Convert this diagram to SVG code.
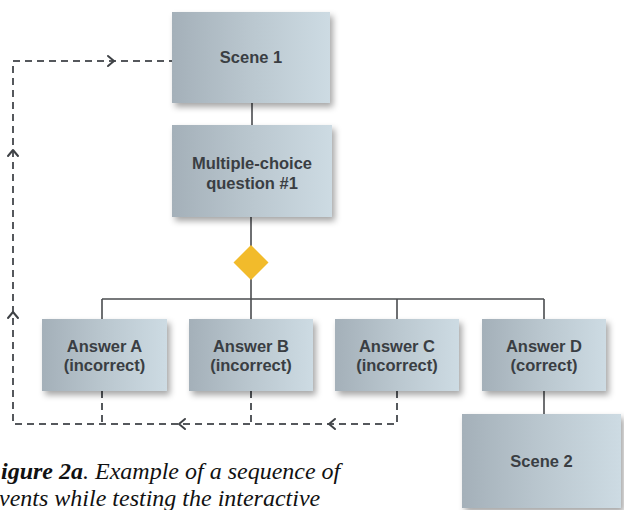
<svg xmlns="http://www.w3.org/2000/svg" width="624" height="510" viewBox="0 0 624 510">
<style>
.box{fill:url(#g);filter:url(#sh)}
.lbl{font-family:"Liberation Sans",Arial,sans-serif;font-weight:bold;font-size:16.5px;fill:#3a3e43;text-anchor:middle}
.solid{stroke:#4a4c4f;stroke-width:1.6;fill:none}
.dash{stroke:#55585c;stroke-width:2;fill:none;stroke-dasharray:7 5}
.chev{stroke:#3f4246;stroke-width:2;fill:none;stroke-linecap:round;stroke-linejoin:round}
</style>
<defs>
<linearGradient id="g" x1="0" y1="0" x2="1" y2="0">
<stop offset="0" stop-color="#a4b0b9"/>
<stop offset="0.5" stop-color="#bac7cf"/>
<stop offset="1" stop-color="#cddbe3"/>
</linearGradient>
<filter id="sh" x="-10%" y="-10%" width="125%" height="130%">
<feDropShadow dx="3" dy="4" stdDeviation="3" flood-color="#000" flood-opacity="0.35"/>
</filter>
</defs>
<g id="connectors">
<line class="solid" x1="252" y1="103" x2="252" y2="125"/>
<line class="solid" x1="251" y1="217" x2="251" y2="299"/>
<line class="solid" x1="102" y1="299" x2="544" y2="299"/>
<line class="solid" x1="102" y1="299" x2="102" y2="319"/>
<line class="solid" x1="251" y1="299" x2="251" y2="319"/>
<line class="solid" x1="397" y1="299" x2="397" y2="319"/>
<line class="solid" x1="544" y1="299" x2="544" y2="319"/>
<line class="solid" x1="544" y1="391" x2="544" y2="414"/>
<path class="dash" d="M397 391 V424 H13 V61 H172"/>
<line class="dash" x1="102" y1="391" x2="102" y2="424"/>
<line class="dash" x1="251" y1="391" x2="251" y2="424"/>
<polyline class="chev" points="108,56 114,61 108,66"/>
<polyline class="chev" points="8,156 13,150 18,156"/>
<polyline class="chev" points="8,318 13,312 18,318"/>
<polyline class="chev" points="185,419 179,424 185,429"/>
<polyline class="chev" points="335,419 329,424 335,429"/>
</g>
<g id="decision">
<polygon points="251,245 268.5,262.5 251,280 233.5,262.5" fill="#f2bb2b"/>
</g>
<g id="scene1">
<rect class="box" x="172" y="12" width="158" height="91"/>
<text class="lbl" x="251" y="63">Scene 1</text>
</g>
<g id="mcq">
<rect class="box" x="172" y="125" width="160" height="92"/>
<text class="lbl" x="252" y="169">Multiple-choice</text>
<text class="lbl" x="252" y="189">question #1</text>
</g>
<g id="answerA">
<rect class="box" x="42" y="319" width="125" height="72"/>
<text class="lbl" x="104.5" y="352">Answer A</text>
<text class="lbl" x="104.5" y="371">(incorrect)</text>
</g>
<g id="answerB">
<rect class="box" x="189" y="319" width="124" height="72"/>
<text class="lbl" x="251" y="352">Answer B</text>
<text class="lbl" x="251" y="371">(incorrect)</text>
</g>
<g id="answerC">
<rect class="box" x="335" y="319" width="124" height="72"/>
<text class="lbl" x="397" y="352">Answer C</text>
<text class="lbl" x="397" y="371">(incorrect)</text>
</g>
<g id="answerD">
<rect class="box" x="482" y="319" width="124" height="72"/>
<text class="lbl" x="544" y="352">Answer D</text>
<text class="lbl" x="544" y="371">(correct)</text>
</g>
<g id="scene2">
<rect class="box" x="462" y="414" width="159" height="94"/>
<text class="lbl" x="541.5" y="467">Scene 2</text>
</g>
<g id="caption" font-family="'Liberation Serif', 'DejaVu Serif', serif" font-size="24" font-style="italic" fill="#111">
<text x="1" y="479"><tspan font-weight="bold">igure 2a</tspan>. Example of a sequence of</text>
<text x="-1" y="506">vents while testing the interactive</text>
</g>
</svg>
